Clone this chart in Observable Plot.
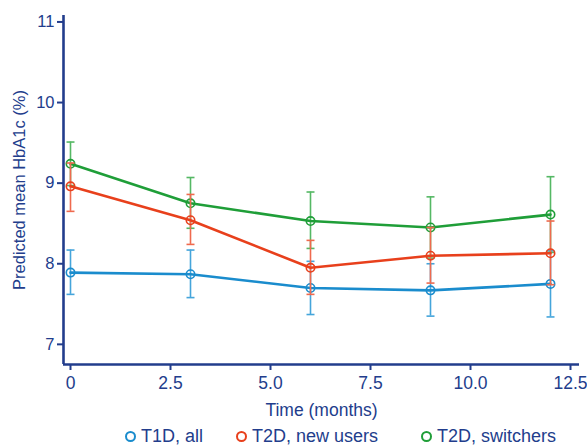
<!DOCTYPE html>
<html>
<head>
<meta charset="utf-8">
<script src="https://cdn.jsdelivr.net/npm/d3@7"></script>
<script src="https://cdn.jsdelivr.net/npm/@observablehq/plot@0.6"></script>
<style>
  html, body { margin: 0; padding: 0; background: #fff; }
  #chart { width: 587px; height: 446px; position: relative; font-family: "Liberation Sans", Arial, sans-serif; }
  #legend { position: absolute; top: 426px; left: 0; width: 587px; height: 21px; font-size: 18px; color: #223d8c; }
  .item { position: absolute; top: 0; display: flex; align-items: center; height: 21px; white-space: nowrap; }
  .ring { width: 7px; height: 7px; border-radius: 50%; border: 2.5px solid; margin-right: 5px; }
</style>
</head>
<body>
<div id="chart"></div>
<script>
// ---- data ----
const months = [0, 3, 6, 9, 12];
const seriesNames = ["T1D, all", "T2D, new users", "T2D, switchers"];

const t1dMean = [7.89, 7.87, 7.70, 7.67, 7.75];
const t1dLow  = [7.62, 7.58, 7.37, 7.35, 7.34];
const t1dHigh = [8.17, 8.17, 8.03, 8.00, 8.16];

const t2dNewMean = [8.96, 8.54, 7.95, 8.10, 8.13];
const t2dNewLow  = [8.65, 8.24, 7.62, 7.76, 7.74];
const t2dNewHigh = [9.25, 8.86, 8.29, 8.45, 8.53];

const t2dSwMean = [9.24, 8.75, 8.53, 8.45, 8.61];
const t2dSwLow  = [8.97, 8.44, 8.19, 8.07, 8.14];
const t2dSwHigh = [9.51, 9.07, 8.89, 8.83, 9.08];

const xTicks = [0, 2.5, 5, 7.5, 10, 12.5];
const xTickLabels = ["0", "2.5", "5.0", "7.5", "10.0", "12.5"];
const yTicks = [7, 8, 9, 10, 11];
const yTickLabels = ["7", "8", "9", "10", "11"];

// ---- styles ----
const navy = "#223d8c";
const lineColors = ["#1a8ccd", "#e8401c", "#1f9e38"];
const barColors  = ["#45a5db", "#ef6a4e", "#55b864"];

const means = [t1dMean, t2dNewMean, t2dSwMean];
const lows  = [t1dLow, t2dNewLow, t2dSwLow];
const highs = [t1dHigh, t2dNewHigh, t2dSwHigh];

const rowsBySeries = seriesNames.map((s, k) =>
  months.map((m, i) => ({series: s, month: m, mean: means[k][i], low: lows[k][i], high: highs[k][i]}))
);

const capSymbol = {
  draw(context, size) {
    const w = Math.sqrt(size / Math.PI);
    context.moveTo(-w, 0);
    context.lineTo(w, 0);
  }
};

const xDomain = [-0.175, 12.725];
const yDomain = [6.75, 11.08];

const drawOrder = [0, 2, 1];
const seriesMarks = drawOrder.flatMap(k => {
  const rows = rowsBySeries[k];
  return [
    Plot.ruleX(rows, {x: "month", y1: "low", y2: "high", stroke: barColors[k], strokeWidth: 1.6}),
    Plot.dot(rows, {x: "month", y: "low", symbol: capSymbol, r: 4, stroke: barColors[k], strokeWidth: 1.6, fill: "none"}),
    Plot.dot(rows, {x: "month", y: "high", symbol: capSymbol, r: 4, stroke: barColors[k], strokeWidth: 1.6, fill: "none"}),
    Plot.line(rows, {x: "month", y: "mean", stroke: lineColors[k], strokeWidth: 2.6}),
    Plot.dot(rows, {x: "month", y: "mean", r: 4.2, stroke: lineColors[k], strokeWidth: 1.6, fill: "none"})
  ];
});

const plot = Plot.plot({
  width: 587,
  height: 420,
  marginLeft: 63,
  marginRight: 8,
  marginTop: 15,
  marginBottom: 56,
  style: {fontFamily: "'Liberation Sans', Arial, sans-serif", fontSize: "18px", color: navy, background: "white", overflow: "visible"},
  x: {domain: xDomain},
  y: {domain: yDomain},
  marks: [
    Plot.axisX({ticks: xTicks, tickFormat: (d, i) => xTickLabels[i], tickSize: 6, tickPadding: 6, strokeWidth: 2,
      label: "Time (months)", labelArrow: false, labelAnchor: "center", labelOffset: 51, fontSize: 17.5}),
    Plot.axisY({ticks: yTicks, tickFormat: (d, i) => yTickLabels[i], tickSize: 6, tickPadding: 3, strokeWidth: 2,
      label: "Predicted mean HbA1c (%)", labelArrow: false, labelAnchor: "center", labelOffset: 50, fontSize: 16.5}),
    Plot.ruleX([xDomain[0]], {stroke: navy, strokeWidth: 2.6}),
    Plot.ruleY([yDomain[0]], {stroke: navy, strokeWidth: 2.6}),
    ...seriesMarks
  ]
});

const chart = document.getElementById("chart");
chart.appendChild(plot);

// legend
const legend = document.createElement("div");
legend.id = "legend";
const legendLeft = [125, 236, 421];
seriesNames.forEach((s, k) => {
  const it = document.createElement("div");
  it.className = "item";
  it.style.left = legendLeft[k] + "px";
  const ring = document.createElement("span");
  ring.className = "ring";
  ring.style.borderColor = lineColors[k];
  const label = document.createElement("span");
  label.textContent = s;
  it.appendChild(ring);
  it.appendChild(label);
  legend.appendChild(it);
});
chart.appendChild(legend);
</script>
</body>
</html>
